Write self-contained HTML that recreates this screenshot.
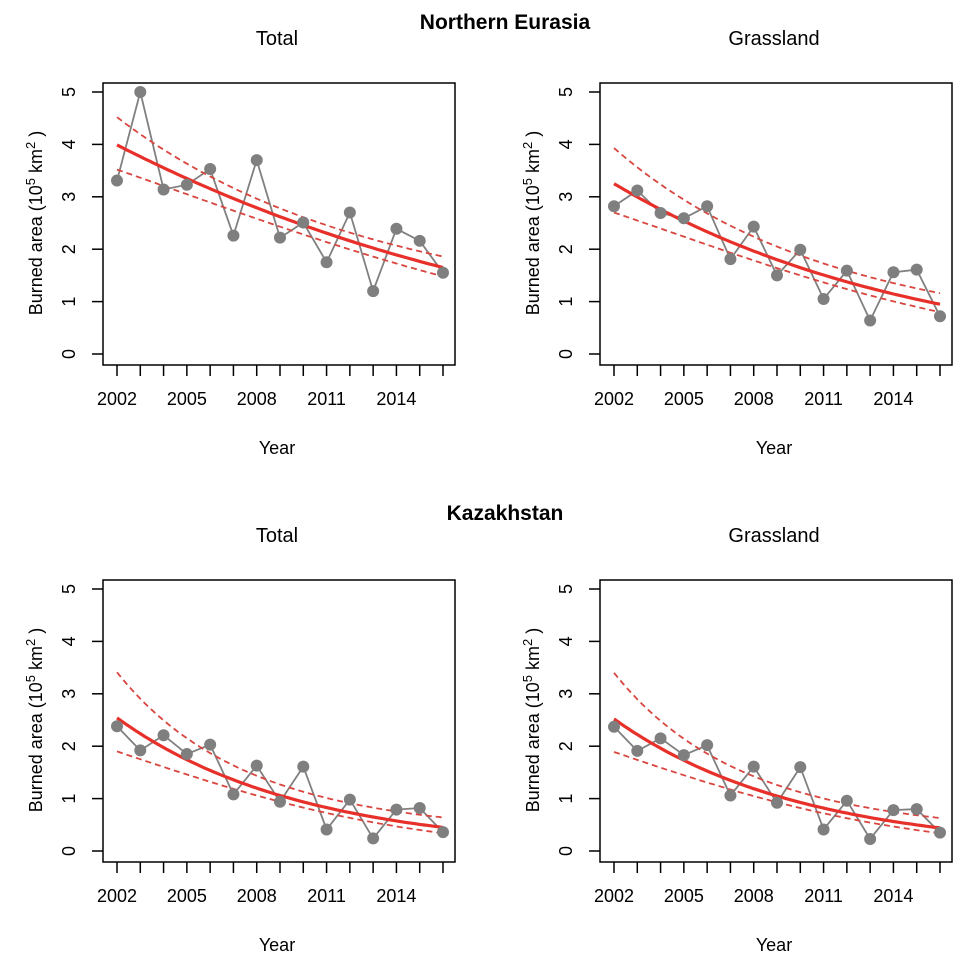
<!DOCTYPE html>
<html><head><meta charset="utf-8"><style>
body{margin:0;background:#fff}
svg text{font-family:"Liberation Sans",Arial,sans-serif;fill:#000}
</style></head><body>
<svg id="chart" width="968" height="962" xmlns="http://www.w3.org/2000/svg">
<text x="505" y="29" font-size="21" font-weight="bold" text-anchor="middle">Northern Eurasia</text>
<text x="505" y="520" font-size="21" font-weight="bold" text-anchor="middle">Kazakhstan</text>
</svg>
<script>
const years = [2002,2003,2004,2005,2006,2007,2008,2009,2010,2011,2012,2013,2014,2015,2016];
const xTickLabels = [2002,2005,2008,2011,2014];
const yTickLabels = [0,1,2,3,4,5];
const neTotal = [3.31,5.0,3.14,3.23,3.53,2.26,3.70,2.22,2.51,1.75,2.70,1.20,2.39,2.16,1.55];
const neGrass = [2.82,3.12,2.69,2.59,2.82,1.81,2.43,1.50,1.99,1.05,1.59,0.64,1.56,1.61,0.72];
const kzTotal = [2.38,1.92,2.21,1.85,2.03,1.08,1.63,0.94,1.61,0.41,0.98,0.24,0.79,0.82,0.36];
const kzGrass = [2.37,1.91,2.15,1.83,2.02,1.06,1.61,0.92,1.60,0.41,0.96,0.23,0.78,0.80,0.35];
// fitted trend & bounds at 2002, 2009, 2016
const neTotalFit = [3.99,2.62,1.65], neTotalUp = [4.52,2.78,1.86], neTotalLo = [3.52,2.43,1.48];
const neGrassFit = [3.25,1.80,0.95], neGrassUp = [3.93,2.05,1.16], neGrassLo = [2.70,1.64,0.80];
const kzTotalFit = [2.54,1.06,0.45], kzTotalUp = [3.41,1.27,0.64], kzTotalLo = [1.90,0.94,0.34];
const kzGrassFit = [2.52,1.05,0.44], kzGrassUp = [3.40,1.26,0.63], kzGrassLo = [1.89,0.93,0.34];
const fitYears = [2002,2009,2016];

const svg = document.getElementById('chart');
const NS = 'http://www.w3.org/2000/svg';
function mk(tag, attrs, parent){const e=document.createElementNS(NS,tag);for(const k in attrs)e.setAttribute(k,attrs[k]);(parent||svg).appendChild(e);return e;}

function panel(name, left, top, title, vals, fit, up, lo){
  const g = mk('g',{});
  
  
  const boxL=left, boxR=left+352, boxT=top, boxB=top+282;
  const x0=left+14, x1=left+340, y0=top+271, y5=top+9;
  const xs = y => x0 + (y-2002)*(x1-x0)/14;
  const ys = v => y0 - v*(y0-y5)/5;
  const box = mk('rect',{x:boxL,y:boxT,width:boxR-boxL,height:boxB-boxT,fill:'none',stroke:'#000','stroke-width':1.5},g);
  
  
  const t = mk('text',{x:(boxL+boxR)/2-2,y:top-38,'font-size':20,'text-anchor':'middle'},g);
  t.textContent=title;
  
  
  years.forEach(yr=>{mk('line',{x1:xs(yr),x2:xs(yr),y1:boxB,y2:boxB+11,stroke:'#000','stroke-width':1.5},g);});
  xTickLabels.forEach(yr=>{const l=mk('text',{x:xs(yr),y:boxB+40,'font-size':18,'text-anchor':'middle'},g);l.textContent=yr;
    
    });
  yTickLabels.forEach(v=>{mk('line',{x1:boxL-11,x2:boxL,y1:ys(v),y2:ys(v),stroke:'#000','stroke-width':1.5},g);
    const l=mk('text',{x:0,y:0,'font-size':18,'text-anchor':'middle',transform:`translate(${boxL-28},${ys(v)}) rotate(-90)`},g);l.textContent=v;
    
    });
  const xl=mk('text',{x:(boxL+boxR)/2-2,y:boxB+89,'font-size':18,'text-anchor':'middle'},g);xl.textContent='Year';
  
  
  const yl=mk('text',{x:0,y:0,'font-size':18,'text-anchor':'middle',transform:`translate(${boxL-61},${(y0+y5)/2}) rotate(-90)`},g);
  yl.innerHTML='Burned area (10<tspan dy="-7" font-size="13">5</tspan><tspan dy="7"> km</tspan><tspan dy="-7" font-size="13">2</tspan><tspan dy="7"> )</tspan>';
  
  
  function curve(arr){
    const L=arr.map(Math.log);let d='';
    for(let i=0;i<=70;i++){const yr=2002+i*0.2;
      const a=(yr-fitYears[1])*(yr-fitYears[2])/((fitYears[0]-fitYears[1])*(fitYears[0]-fitYears[2]));
      const b=(yr-fitYears[0])*(yr-fitYears[2])/((fitYears[1]-fitYears[0])*(fitYears[1]-fitYears[2]));
      const c=(yr-fitYears[0])*(yr-fitYears[1])/((fitYears[2]-fitYears[0])*(fitYears[2]-fitYears[1]));
      const v=Math.exp(a*L[0]+b*L[1]+c*L[2]);
      d+=(i?'L':'M')+xs(yr).toFixed(1)+','+ys(v).toFixed(1);}
    return d;}
  const pts=vals.map((v,i)=>xs(years[i]).toFixed(1)+','+ys(v).toFixed(1)).join(' ');
  const pl=mk('polyline',{points:pts,fill:'none',stroke:'#808080','stroke-width':1.8},g);
  
  
  [[up,'upper-bound'],[lo,'lower-bound']].forEach(([arr,nm])=>{
    const p=mk('path',{d:curve(arr),fill:'none',stroke:'#d9453f','stroke-width':1.8,'stroke-dasharray':'6,4'},g);
    
    });
  const f=mk('path',{d:curve(fit),fill:'none',stroke:'#e8302a','stroke-width':3.2},g);
  
  
  vals.forEach((v,i)=>{const c=mk('circle',{cx:xs(years[i]),cy:ys(v),r:6,fill:'#7f7f7f'},g);
    
    });
}
panel('panel-ne-total',103,83,'Total',neTotal,neTotalFit,neTotalUp,neTotalLo);
panel('panel-ne-grassland',600,83,'Grassland',neGrass,neGrassFit,neGrassUp,neGrassLo);
panel('panel-kz-total',103,580,'Total',kzTotal,kzTotalFit,kzTotalUp,kzTotalLo);
panel('panel-kz-grassland',600,580,'Grassland',kzGrass,kzGrassFit,kzGrassUp,kzGrassLo);
</script>
</body></html>
